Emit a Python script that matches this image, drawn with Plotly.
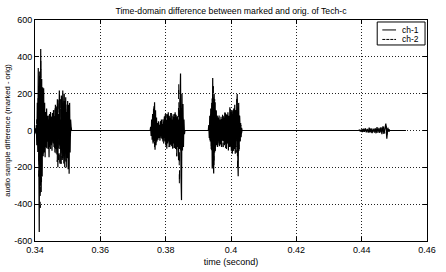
import numpy as np
import plotly.graph_objects as go

# ---- data -------------------------------------------------------------
t_start, t_end = 0.34, 0.4535  # extent of the recording (s)

# ch-1 bursts: (start time, sample period, sample values)
ch1_b1_t0, ch1_b1_dt = 0.3401, 0.00015
ch1_b1 = [10, -15, 30, -80, 150, -117, 340, -200, -551, 320, -300, 443, -334, 280, -250,
          235, -140, 230, -120, 150, -145, 100, -90, 120, -60, 80, -100, 60, -145, 90,
          -70, 100, -80, 70, -110, 95, -60, 110, -90, 80, -120, 140, -100, 100,
          -130, 170, -199, 90, -50, 217, -100, 60, -180, 190, 30, -160, 217, -80, -140,
          200, -200, 40, 180, -170, 100, -150, 160, -210, 140, -235, 150, -120, 60, 20]
ch1_b2_t0, ch1_b2_dt = 0.3754, 0.00015
ch1_b2 = [20, -30, 60, -50, 90, -70, 120, -60, 153, -104, 110, -80, 70, -60, 40, -50,
          50, -40, 30, -55, 45, -30, 60, -45, 35, -60, 50, -40, 72, -54, 90, -80, 60,
          -99, 85, -70, 99, -60, 80, -90, 70, -75, 95, -85, 60, -99, 88, -70, 75, -95,
          99, -80, 85, -110, 70, -90, 60, -162, 110, -100, 150, 310, -250, -378, 200,
          -108, 144, -90, 60, -20]
ch1_b3_t0, ch1_b3_dt = 0.3932, 0.00015
ch1_b3 = [30, -40, 80, -60, 120, -100, 150, -207, 285, -150, -234, 200, -120, 153, -90,
          110, -80, 81, -90, 70, -60, 81, -85, 60, -70, 75, -90, 63, -55, 80, -60, 70,
          -80, 99, -75, 90, -100, 85, -70, 99, -108, 80, -90, 126, -85, 100, -110, 90,
          -126, 110, -95, 120, -100, 140, -126, 110, -90, 130, 198, -120, -249, 150,
          -100, 80, -60, 40, -36, 15]
ch1_b4_t0, ch1_b4_dt = 0.4393, 0.0003
ch1_b4 = [3, -5, 6, -8, 10, -7, 12, -10, 9, -12, 15, -10, 12, -14, 10, -8, 12, -15, 18,
          -12, 14, -10, 16, -20, 22, -18, 25, 38, -44, 15, -6]

# ch-2 bursts
ch2_b1_t0, ch2_b1_dt = 0.3402, 0.0002
ch2_b1 = [10, -20, 60, -90, 200, -250, 300, -420, 380, -280, 200, -150, 120, -110, 90,
          -80, 100, -120, 70, -60, 80, -90, 60, -100, 75, -85, 90, -70, 110, -95, 120,
          -130, 150, -170, 180, -160, 190, -200, 170, -180, 195, -150, 180, -190, 160,
          -170, 130, -200, 140, -120, 100, -90, 60, -40, 15]
ch2_b2_t0, ch2_b2_dt = 0.3756, 0.0002
ch2_b2 = [15, -25, 80, -60, 130, -90, 100, -70, 50, -40, 35, -45, 40, -35, 50, -40, 45,
          -50, 60, -70, 80, -60, 75, -85, 90, -75, 70, -90, 85, -80, 95, -70, 80, -95,
          70, -85, 90, -100, 75, -140, 100, -120, 260, -300, 180, -130, 120, -90, 70,
          -40, 10]
ch2_b3_t0, ch2_b3_dt = 0.3934, 0.0002
ch2_b3 = [20, -50, 100, -120, 180, -190, 240, -200, 170, -110, 130, -80, 90, -70, 75,
          -80, 60, -75, 70, -60, 85, -90, 80, -70, 95, -95, 85, -90, 100, -100, 90, -110,
          115, -90, 105, -115, 120, -110, 125, -100, 110, -120, 170, -200, 140, -110, 80,
          -60, 30, -20]
ch2_b4_t0, ch2_b4_dt = 0.4395, 0.0004
ch2_b4 = [4, -6, 8, -7, 10, -9, 12, -10, 9, -12, 14, -11, 10, -13, 15, -12, 16, -18, 20,
          -15, 30, -35, 8]

series_names = ["ch-1", "ch-2"]
x_ticks = [0.34, 0.36, 0.38, 0.40, 0.42, 0.44, 0.46]
x_labels = ["0.34", "0.36", "0.38", "0.4", "0.42", "0.44", "0.46"]
y_ticks = [-600, -400, -200, 0, 200, 400, 600]
y_labels = ["-600", "-400", "-200", "0", "200", "400", "600"]


def build(bursts):
    ts, vs = [t_start], [0.0]
    for t0, dt, vals in bursts:
        n = len(vals)
        tt = t0 + dt * np.arange(n)
        ts.append(t0 - dt); vs.append(0.0)
        ts.extend(tt.tolist()); vs.extend(vals)
        ts.append(tt[-1] + dt); vs.append(0.0)
    ts.append(t_end); vs.append(0.0)
    return ts, vs


t1, v1 = build([(ch1_b1_t0, ch1_b1_dt, ch1_b1), (ch1_b2_t0, ch1_b2_dt, ch1_b2),
                (ch1_b3_t0, ch1_b3_dt, ch1_b3), (ch1_b4_t0, ch1_b4_dt, ch1_b4)])
t2, v2 = build([(ch2_b1_t0, ch2_b1_dt, ch2_b1), (ch2_b2_t0, ch2_b2_dt, ch2_b2),
                (ch2_b3_t0, ch2_b3_dt, ch2_b3), (ch2_b4_t0, ch2_b4_dt, ch2_b4)])

# ---- figure -----------------------------------------------------------
fig = go.Figure()
fig.add_trace(go.Scatter(x=t1, y=v1, mode="lines", name=series_names[0],
                         line=dict(color="black", width=1.2), showlegend=False))
fig.add_trace(go.Scatter(x=t2, y=v2, mode="lines", name=series_names[1],
                         line=dict(color="black", width=1, dash="dash"), showlegend=False))

FAM = "Liberation Sans, Arial, sans-serif"
font = dict(family=FAM, size=9, color="black")
axis_common = dict(showline=True, linecolor="black", linewidth=1, mirror="ticks",
                   ticks="inside", ticklen=4, tickcolor="black",
                   showgrid=True, gridcolor="#222", gridwidth=1, griddash="1px,2px",
                   zeroline=False, tickfont=font, automargin=False)

# compact MATLAB-style legend box (paper coordinates)
fig.add_shape(type="rect", xref="paper", yref="paper", x0=0.873, x1=0.995,
              y0=0.887, y1=0.991, line=dict(color="black", width=1), fillcolor="white",
              layer="above")
for name, dash, yy in [(series_names[0], "solid", 0.955), (series_names[1], "dash", 0.912)]:
    fig.add_shape(type="line", xref="paper", yref="paper", x0=0.886, x1=0.921,
                  y0=yy, y1=yy, line=dict(color="black", width=1,
                                          dash="solid" if dash == "solid" else "3px,1px"),
                  layer="above")
    fig.add_annotation(xref="paper", yref="paper", x=0.930, y=yy, text=name,
                       showarrow=False, xanchor="left", yanchor="middle",
                       font=dict(family=FAM, size=8.5, color="black"))

fig.update_layout(
    width=446, height=272,
    margin=dict(l=35, r=19, t=20, b=31),
    paper_bgcolor="white", plot_bgcolor="white",
    font=font,
    title=dict(text="Time-domain difference between marked and orig. of Tech-c",
               x=0.5, xref="paper", y=0.96, yref="container",
               xanchor="center", yanchor="middle", font=dict(size=8.7, family=FAM)),
    xaxis=dict(range=[0.34, 0.46], tickvals=x_ticks, ticktext=x_labels,
               title=dict(text="time (second)", standoff=4, font=font), **axis_common),
    yaxis=dict(range=[-600, 600], tickvals=y_ticks, ticktext=y_labels,
               title=dict(text="audio sample difference (marked - orig)", standoff=2,
                          font=dict(size=7.6, family=FAM)), **axis_common),
    showlegend=False,
)

fig.write_html("out.html")
